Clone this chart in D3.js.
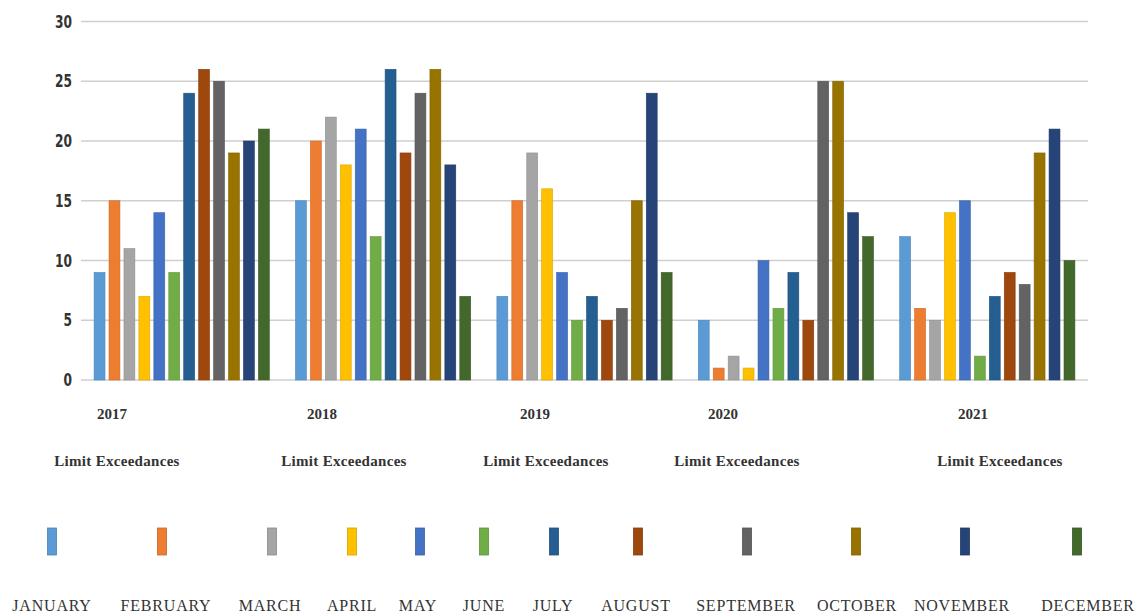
<!DOCTYPE html>
<html><head><meta charset="utf-8">
<script src="https://cdn.jsdelivr.net/npm/d3@7"></script>
<style>body{margin:0;background:#fff}svg{display:block}</style>
</head><body>
<svg id="c" width="1141" height="614"></svg>
<script>
const years = ["2017","2018","2019","2020","2021"];
const months = ["JANUARY","FEBRUARY","MARCH","APRIL","MAY","JUNE","JULY","AUGUST","SEPTEMBER","OCTOBER","NOVEMBER","DECEMBER"];
const v2017 = [9,15,11,7,14,9,24,26,25,19,20,21];
const v2018 = [15,20,22,18,21,12,26,19,24,26,18,7];
const v2019 = [7,15,19,16,9,5,7,5,6,15,24,9];
const v2020 = [5,1,2,1,10,6,9,5,25,25,14,12];
const v2021 = [12,6,5,14,15,2,7,9,8,19,21,10];
const yTicks = [0,5,10,15,20,25,30];
const groupLabel = "Limit Exceedances";
const colors = ["#5B9BD5","#ED7D31","#A5A5A5","#FFC000","#4472C4","#70AD47","#255E91","#9E480E","#636363","#997300","#264478","#43682B"];

// layout (not data)
const yearLabelX = [112, 322, 535, 723, 973];
const groupLabelX = [117, 344, 546, 737, 1000];
const legendX = [52, 162, 272, 352, 420, 484, 554, 638, 747, 856, 965, 1077];
const legendLabelX = [52, 166, 270, 352, 418, 484, 553, 636, 746, 857, 962, 1088];

const series = [v2017, v2018, v2019, v2020, v2021];
const data = years.map((y, i) => ({year: y, values: months.map((m, j) => ({month: m, j, value: series[i][j]}))}));

const svg = d3.select("#c");
const x0 = d3.scaleBand().domain(years).range([81, 1088]).paddingInner(0.13).paddingOuter(0.065);
const x1 = d3.scaleBand().domain(months).range([0, x0.bandwidth()]).paddingInner(0.27).paddingOuter(0);
const y = d3.scaleLinear().domain([0, 30]).range([380, 21.5]);

// gridlines
svg.append("g").selectAll("line").data(yTicks).join("line")
  .attr("x1", 81).attr("x2", 1088)
  .attr("y1", d => y(d)).attr("y2", d => y(d))
  .attr("stroke", "#cfcfcf").attr("stroke-width", 1.6);

// y tick labels (condensed)
svg.append("g").selectAll("text").data(yTicks).join("text")
  .attr("transform", d => `translate(72,${y(d) + 6}) scale(0.72,1)`)
  .attr("text-anchor", "end")
  .style("font-family", "'DejaVu Sans','Liberation Sans',sans-serif")
  .style("font-size", "17px").style("font-weight", "bold").attr("fill", "#333")
  .text(d => d);

// bars
const g = svg.append("g").selectAll("g").data(data).join("g")
  .attr("transform", d => `translate(${x0(d.year)},0)`);
g.selectAll("rect").data(d => d.values).join("rect")
  .attr("x", d => x1(d.month)).attr("width", x1.bandwidth())
  .attr("y", d => y(d.value)).attr("height", d => y(0) - y(d.value))
  .attr("fill", d => colors[d.j])
  .attr("stroke", d => d3.color(colors[d.j]).darker(0.4)).attr("stroke-width", 0.6);

// year labels
const serif = "'Liberation Serif','Times New Roman',serif";
svg.append("g").selectAll("text").data(years).join("text")
  .attr("x", (d, i) => yearLabelX[i]).attr("y", 419)
  .attr("text-anchor", "middle")
  .style("font-family", serif).style("font-size", "15px").style("font-weight", "bold").attr("fill", "#333")
  .text(d => d);
svg.append("g").selectAll("text").data(years).join("text")
  .attr("x", (d, i) => groupLabelX[i]).attr("y", 466)
  .attr("text-anchor", "middle")
  .style("font-family", serif).style("font-size", "15px").style("font-weight", "bold")
  .style("letter-spacing", "0.3px").attr("fill", "#333")
  .text(groupLabel);

// legend
const lg = svg.append("g").selectAll("g").data(months).join("g");
lg.append("rect")
  .attr("x", (d, i) => legendX[i] - 4.5).attr("y", 528)
  .attr("width", 9).attr("height", 27)
  .attr("fill", (d, i) => colors[i])
  .attr("stroke", (d, i) => d3.color(colors[i]).darker(0.5)).attr("stroke-width", 0.8);
lg.append("text")
  .attr("x", (d, i) => legendLabelX[i]).attr("y", 611)
  .attr("text-anchor", "middle")
  .style("font-family", serif).style("font-size", "16px").style("letter-spacing", "0.8px").attr("fill", "#333")
  .text(d => d);
</script>
</body></html>
